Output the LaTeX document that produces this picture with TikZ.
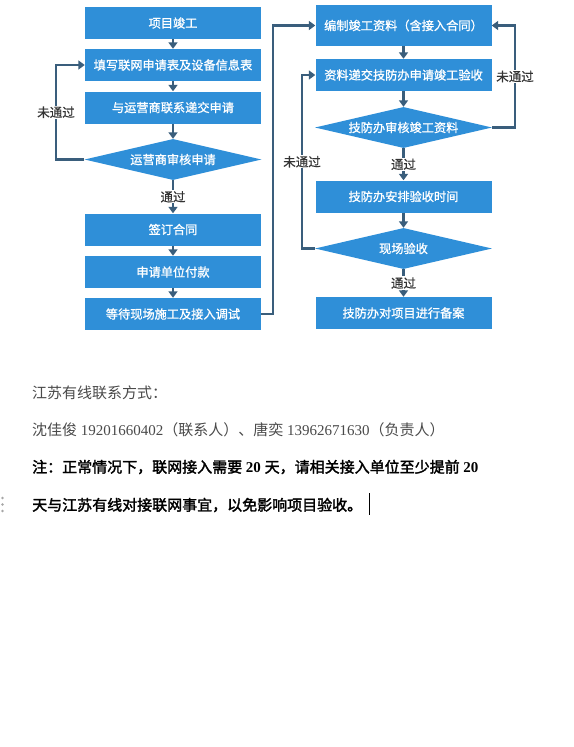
\documentclass[tikz,border=0pt]{standalone}
\usepackage{fontspec}
\setmainfont{Liberation Serif}
\newfontfamily\cjk{Noto Sans CJK SC}
\newfontfamily\cjkbold[FakeBold=2]{Noto Sans CJK SC}
\newfontfamily\boxcjk[FakeBold=1]{Noto Sans CJK SC}
\newfontfamily\tagcjk[FakeBold=0.6]{Noto Sans CJK SC}
\usetikzlibrary{shapes.geometric,arrows.meta}
\definecolor{flowblue}{HTML}{2F8FD8}
\definecolor{flowline}{HTML}{3A5E7C}
\definecolor{notegray}{HTML}{4A4A4A}
\begin{document}
\begin{tikzpicture}[x=1pt,y=-1pt,
  stepbox/.style={fill=flowblue,text=white,minimum width=176pt,minimum height=32pt,
    inner sep=0pt,font=\boxcjk\fontsize{12.2}{14}\selectfont},
  check/.style={diamond,aspect=4.3,fill=flowblue,text=white,minimum width=177pt,
    minimum height=41pt,inner sep=0pt,font=\boxcjk\fontsize{12.2}{14}\selectfont},
  flow/.style={draw=flowline,line width=2.2pt,-{Triangle[width=9pt,length=6.5pt]}},
  tag/.style={fill=white,text=black!80,inner sep=1pt,font=\tagcjk\fontsize{12.5}{14}\selectfont},
  para/.style={anchor=west,inner sep=0pt,font=\fontsize{15}{18}\selectfont}]
 \fill[white] (0,0) rectangle (573,747);
 % left column
 \node[stepbox] (done) at (173,23) {项目竣工};
 \node[stepbox] (form) at (173,65) {填写联网申请表及设备信息表};
 \node[stepbox] (submit) at (173,107.5) {与运营商联系递交申请};
 \node[check] (opcheck) at (173,159.5) {运营商审核申请};
 \node[stepbox] (contract) at (173,229.5) {签订合同};
 \node[stepbox] (pay) at (173,272) {申请单位付款};
 \node[stepbox] (build) at (173,314) {等待现场施工及接入调试};
 % right column
 \node[stepbox,minimum height=41pt] (docs) at (403.5,25.5) {编制竣工资料（含接入合同）};
 \node[stepbox] (apply) at (403.5,75) {资料递交技防办申请竣工验收};
 \node[check] (doccheck) at (403.5,127.5) {技防办审核竣工资料};
 \node[stepbox] (plan) at (403.5,196.5) {技防办安排验收时间};
 \node[check] (site) at (403.5,248.5) {现场验收};
 \node[stepbox] (record) at (403.5,313) {技防办对项目进行备案};
 \coordinate (opback) at (56,159.5);
 \coordinate (across) at (273,314);
 \coordinate (docback) at (515,127.5);
 \coordinate (siteback) at (302,248.5);
 \draw[flow] (done) -- (form);
 \draw[flow] (form) -- (submit);
 \draw[flow] (submit) -- (opcheck);
 \draw[flow] (opcheck) -- node[tag] {通过} (contract);
 \draw[flow] (contract) -- (pay);
 \draw[flow] (pay) -- (build);
 \draw[flow] (opcheck.west) -- (opback) |- node[tag,pos=0.25] {未通过} (form.west);
 \draw[flow] (build.east) -- (across) |- (docs.west);
 \draw[flow] (docs) -- (apply);
 \draw[flow] (apply) -- (doccheck);
 \draw[flow] (doccheck) -- node[tag] {通过} (plan);
 \draw[flow] (plan) -- (site);
 \draw[flow] (site) -- node[tag] {通过} (record);
 \draw[flow] (doccheck.east) -- (docback) |- node[tag,pos=0.25] {未通过} (docs.east);
 \draw[flow] (site.west) -- (siteback) |- node[tag,pos=0.25] {未通过} (apply.west);
 % contact text
 \node[para,text=notegray] (contact) at (32,393) {\cjk 江苏有线联系方式：};
 \node[para,text=notegray] (names) at (32,430)
   {{\cjk 沈佳俊} 19201660402{\cjk （联系人）、唐奕} 13962671630{\cjk （负责人）}};
 \node[para] (noteone) at (32,467)
   {{\cjkbold 注：正常情况下，联网接入需要} \textbf{20} {\cjkbold 天，请相关接入单位至少提前} \textbf{20}};
 \node[para] (notetwo) at (32,505) {\cjkbold 天与江苏有线对接联网事宜，以免影响项目验收。};
 \draw[line width=0.8pt] (369,493) -- (369,515);
 \fill[gray!70] (2.5,498) circle (1.3pt) (2.5,504.5) circle (1.3pt) (2.5,511) circle (1.3pt);
\end{tikzpicture}
\end{document}
